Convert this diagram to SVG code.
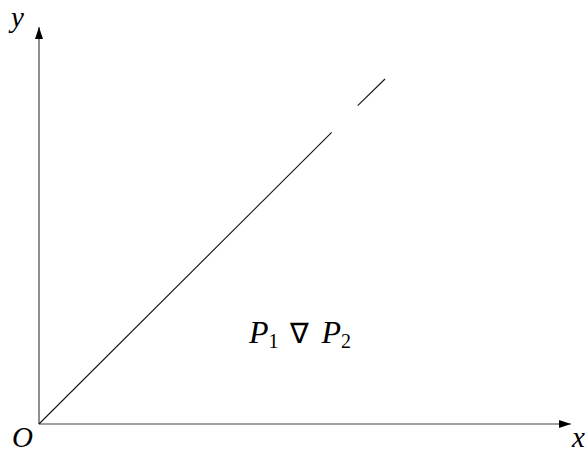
<svg xmlns="http://www.w3.org/2000/svg" width="588" height="452" viewBox="0 0 588 452">
<style>
.ax{stroke:#444;stroke-width:1.2;fill:none}
.ln{stroke:#111;stroke-width:1.1;fill:none}
.lb{font-family:"Liberation Serif",serif;font-style:italic;font-size:29px;fill:#000}
.m{font-family:"Liberation Serif",serif;font-size:28px;fill:#000}
</style>
<defs>
<marker id="ah" viewBox="0 0 12 8" refX="12" refY="4" markerWidth="12" markerHeight="8" markerUnits="userSpaceOnUse" orient="auto">
<path d="M0,0 L12,4 L0,8 Z" fill="#000"/>
</marker>
</defs>
<g id="connectors">
<line class="ax" x1="39" y1="424" x2="571" y2="424" marker-end="url(#ah)"/>
<line class="ax" x1="39" y1="424" x2="39" y2="27" marker-end="url(#ah)"/>
<line class="ln" x1="39" y1="424" x2="331.7" y2="132.3"/>
<line class="ln" x1="357.7" y1="105.7" x2="385" y2="79"/>
</g>
<g id="labels">
<text class="lb" x="11" y="27">y</text>
<text class="lb" x="12" y="447">O</text>
<text class="lb" x="572" y="447">x</text>
<text class="m" x="249" y="343"><tspan font-style="italic" font-size="32">P</tspan><tspan font-size="20" dy="5">1</tspan><tspan dy="-5" dx="11">∇</tspan><tspan font-style="italic" font-size="32" dx="13">P</tspan><tspan font-size="20" dy="5">2</tspan></text>
</g>
</svg>
